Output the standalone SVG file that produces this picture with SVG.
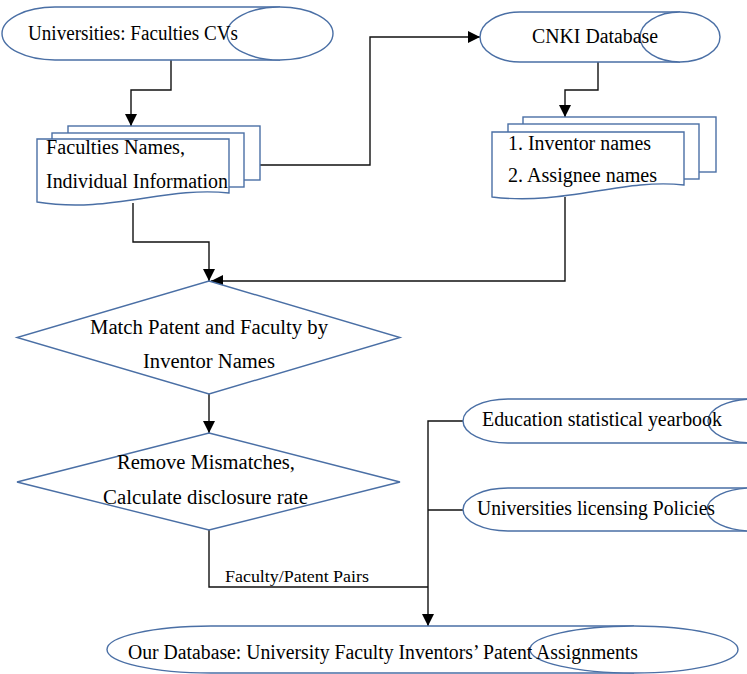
<svg xmlns="http://www.w3.org/2000/svg" width="747" height="674" viewBox="0 0 747 674">
<defs>
<style>
.shape{fill:#ffffff;stroke:#4a6fa5;stroke-width:1.4}
.line{fill:none;stroke:#111;stroke-width:1.4}
.t{font-family:"Liberation Serif","Times New Roman",serif;font-size:20px;fill:#000}
.s{font-size:17px}
</style>
<marker id="arr" markerUnits="userSpaceOnUse" markerWidth="12" markerHeight="12" refX="12" refY="6" orient="auto">
<path d="M0,0 L12,6 L0,12 Z" fill="#000"/>
</marker>
</defs>
<rect width="747" height="674" fill="#fff"/>

<g id="connectors">
<polyline class="line" points="171,60 171,90 131,90 131,126" marker-end="url(#arr)"/>
<polyline class="line" points="260,165 370,165 370,37 480,37" marker-end="url(#arr)"/>
<polyline class="line" points="598,62 598,90 565,90 565,117" marker-end="url(#arr)"/>
<polyline class="line" points="133,203 133,242 209,242 209,281" marker-end="url(#arr)"/>
<polyline class="line" points="565,197 565,281 211,281" marker-end="url(#arr)"/>
<polyline class="line" points="209,394 209,433" marker-end="url(#arr)"/>
<polyline class="line" points="209,530 209,587 428,587"/>
<polyline class="line" points="463,421 428,421 428,626" marker-end="url(#arr)"/>
<polyline class="line" points="463,510 428,510"/>
<text class="t s" x="225" y="582" textLength="144" lengthAdjust="spacingAndGlyphs">Faculty/Patent Pairs</text>
</g>

<g id="universities">
<path class="shape" d="M280,7 H55 A53,26.5 0 0 0 55,60 H280"/>
<ellipse class="shape" cx="280" cy="33.5" rx="53" ry="26.5"/>
<text class="t" x="28" y="40" textLength="210" lengthAdjust="spacingAndGlyphs">Universities: Faculties CVs</text>
</g>

<g id="cnki">
<path class="shape" d="M680,12 H520 A40,25 0 0 0 520,62 H680"/>
<ellipse class="shape" cx="680" cy="37" rx="40" ry="25"/>
<text class="t" x="532" y="43" textLength="126" lengthAdjust="spacingAndGlyphs">CNKI Database</text>
</g>

<g id="faculty-docs">
<rect class="shape" x="68" y="126" width="192" height="54"/>
<rect class="shape" x="52" y="133" width="192" height="54"/>
<path class="shape" d="M37,139 H229 V193 C165,186 110,214 37,202 Z"/>
<text class="t" x="46" y="154" textLength="139" lengthAdjust="spacingAndGlyphs">Faculties Names,</text>
<text class="t" x="46" y="188" textLength="182" lengthAdjust="spacingAndGlyphs">Individual Information</text>
</g>

<g id="cnki-docs">
<rect class="shape" x="523" y="117" width="193" height="55"/>
<rect class="shape" x="508" y="124" width="191" height="55"/>
<path class="shape" d="M492,132 H684 V185 C622,178 565,206 492,197 Z"/>
<text class="t" x="508" y="150" textLength="143" lengthAdjust="spacingAndGlyphs">1. Inventor names</text>
<text class="t" x="508" y="182" textLength="149" lengthAdjust="spacingAndGlyphs">2. Assignee names</text>
</g>

<g id="match">
<polygon class="shape" points="209,281 400,337.5 209,394 17,337.5"/>
<text class="t" x="90" y="334" textLength="238" lengthAdjust="spacingAndGlyphs">Match Patent and Faculty by</text>
<text class="t" x="143" y="368" textLength="132" lengthAdjust="spacingAndGlyphs">Inventor Names</text>
</g>

<g id="remove">
<polygon class="shape" points="209,433 400,482 209,530 17,482"/>
<text class="t" x="117" y="469" textLength="178" lengthAdjust="spacingAndGlyphs">Remove Mismatches,</text>
<text class="t" x="103" y="504" textLength="205" lengthAdjust="spacingAndGlyphs">Calculate disclosure rate</text>
</g>

<g id="education">
<path class="shape" d="M753,399 H508 A45,22 0 0 0 508,443 H753"/>
<ellipse class="shape" cx="753" cy="421" rx="45" ry="22"/>
<text class="t" x="482" y="426" textLength="240" lengthAdjust="spacingAndGlyphs">Education statistical yearbook</text>
</g>

<g id="licensing">
<path class="shape" d="M752,488 H508 A45,21.5 0 0 0 508,531 H752"/>
<ellipse class="shape" cx="752" cy="509.5" rx="45" ry="21.5"/>
<text class="t" x="477" y="515" textLength="238" lengthAdjust="spacingAndGlyphs">Universities licensing Policies</text>
</g>

<g id="database">
<path class="shape" d="M634,626 H211 A104,23.5 0 0 0 211,673 H634"/>
<ellipse class="shape" cx="634" cy="649.5" rx="104" ry="23.5"/>
<text class="t" x="128" y="659" textLength="510" lengthAdjust="spacingAndGlyphs">Our Database: University Faculty Inventors’ Patent Assignments</text>
</g>
</svg>
